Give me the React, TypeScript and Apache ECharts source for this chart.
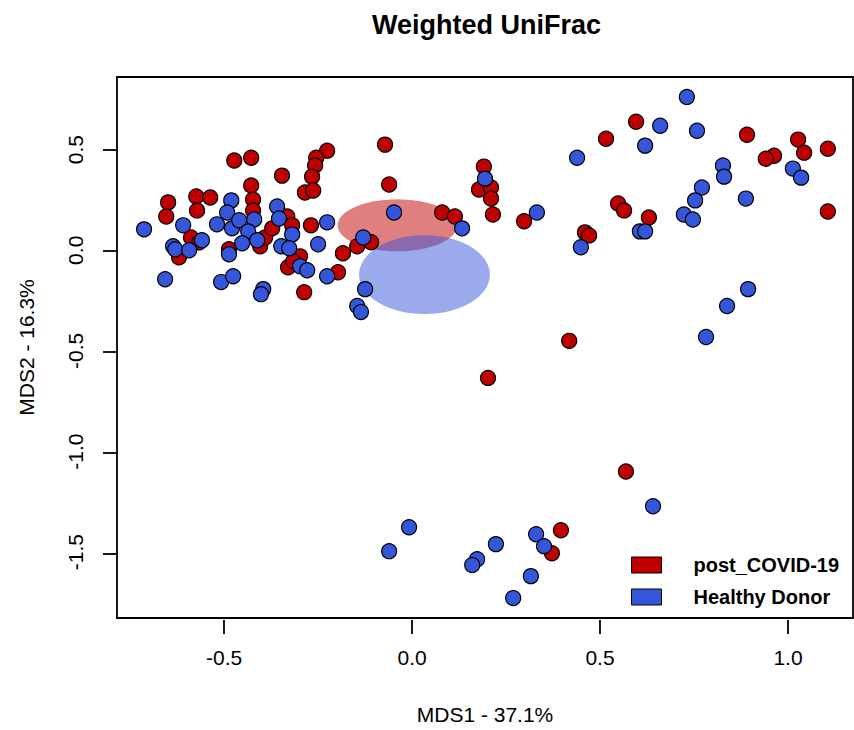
import React, { useEffect, useRef } from "react";
import * as echarts from "echarts";

// Axis tick positions
const xTicks = [-0.5, 0, 0.5, 1.0];
const yTicks = [-1.5, -1.0, -0.5, 0, 0.5];

// Plot extents (the box)
const xRange = [-0.785, 1.173];
const yRange = [-1.827, 0.861];

// Extents of the slightly larger frame that holds the outward tick marks
const xFrame = [-0.8222, 1.173];
const yFrame = [-1.8963, 0.861];

const groupNames = ["post_COVID-19", "Healthy Donor"];
const groupColors = ["#C00000", "#3556DA"];
const ellipseColors = ["rgba(192,0,0,0.5)", "rgba(53,86,218,0.5)"];

// MDS coordinates per sample: [MDS1, MDS2]
const postCovid: [number, number][] = [
  [-0.473, 0.446], [-0.428, 0.46], [-0.346, 0.371], [-0.649, 0.238], [-0.654, 0.168],
  [-0.574, 0.267], [-0.537, 0.262], [-0.572, 0.198], [-0.428, 0.322], [-0.423, 0.252],
  [-0.423, 0.198], [-0.588, 0.064], [-0.566, 0.04], [-0.62, -0.035], [-0.487, 0.005],
  [-0.404, 0.02], [-0.391, 0.064], [-0.372, 0.109], [-0.332, 0.168], [-0.319, 0.124],
  [-0.269, 0.124], [-0.287, -0.208], [-0.33, -0.084], [-0.298, -0.03], [-0.316, -0.054],
  [-0.226, 0.495], [-0.255, 0.46], [-0.258, 0.421], [-0.266, 0.366], [-0.285, 0.287],
  [-0.263, 0.297], [-0.184, -0.015], [-0.197, -0.109], [-0.146, 0.02], [-0.109, 0.04],
  [-0.072, 0.525], [-0.061, 0.327], [0.08, 0.188], [0.114, 0.168], [0.191, 0.416],
  [0.178, 0.302], [0.21, 0.312], [0.21, 0.257], [0.215, 0.178], [0.298, 0.144],
  [0.516, 0.554], [0.596, 0.639], [0.891, 0.574], [1.027, 0.55], [1.043, 0.485],
  [1.106, 0.505], [0.963, 0.47], [0.941, 0.455], [0.548, 0.233], [0.564, 0.198],
  [0.63, 0.163], [0.46, 0.089], [0.471, 0.074], [1.106, 0.193], [0.418, -0.45],
  [0.202, -0.634], [0.569, -1.099], [0.396, -1.391], [0.372, -1.505],
];

const healthyDonor: [number, number][] = [
  [-0.713, 0.104], [-0.609, 0.124], [-0.636, 0.02], [-0.63, 0.005], [-0.593, 0.0],
  [-0.559, 0.05], [-0.657, -0.144], [-0.508, -0.158], [-0.476, -0.129], [-0.396, -0.193],
  [-0.402, -0.218], [-0.481, 0.248], [-0.492, 0.188], [-0.519, 0.129], [-0.479, 0.109],
  [-0.46, 0.149], [-0.42, 0.153], [-0.436, 0.094], [-0.452, 0.035], [-0.412, 0.05],
  [-0.487, -0.02], [-0.359, 0.218], [-0.354, 0.158], [-0.319, 0.079], [-0.348, 0.02],
  [-0.327, 0.01], [-0.298, -0.079], [-0.279, -0.099], [-0.226, 0.139], [-0.25, 0.03],
  [-0.226, -0.129], [-0.13, 0.064], [-0.048, 0.188], [0.133, 0.109], [0.194, 0.356],
  [-0.125, -0.193], [-0.146, -0.277], [-0.136, -0.307], [0.731, 0.762], [0.66, 0.619],
  [0.62, 0.52], [0.758, 0.594], [0.439, 0.46], [0.827, 0.421], [0.83, 0.366],
  [0.771, 0.312], [0.753, 0.248], [0.723, 0.178], [0.747, 0.153], [0.888, 0.257],
  [1.013, 0.406], [1.035, 0.361], [0.332, 0.188], [0.449, 0.015], [0.606, 0.094],
  [0.62, 0.094], [0.894, -0.193], [0.838, -0.277], [0.782, -0.431], [0.641, -1.272],
  [-0.008, -1.376], [-0.061, -1.495], [0.223, -1.46], [0.173, -1.535], [0.16, -1.564],
  [0.33, -1.411], [0.351, -1.47], [0.316, -1.619], [0.269, -1.728],
];

// Group ellipses: [centerX, centerY, radiusX, radiusY]
const postCovidEllipse = [-0.039, 0.124, 0.159, 0.129];
const healthyEllipse = [0.033, -0.121, 0.174, 0.196];

const FONT = "'Liberation Sans', Arial, Helvetica, sans-serif";
const TICK_LEN = 14;
const LINE_W = 1.8;

function ellipseSeries(name: string, ellipse: number[], color: string) {
  return {
    type: "custom",
    name,
    z: 1,
    silent: true,
    data: [ellipse],
    encode: { x: 0, y: 1 },
    renderItem: (_params: any, api: any) => {
      const cx = api.value(0);
      const cy = api.value(1);
      const rx = api.value(2);
      const ry = api.value(3);
      const points: number[][] = [];
      const n = 120;
      for (let i = 0; i < n; i++) {
        const t = (i / n) * Math.PI * 2;
        points.push(api.coord([cx + rx * Math.cos(t), cy + ry * Math.sin(t)]));
      }
      return {
        type: "polygon",
        shape: { points },
        style: { fill: color, stroke: "none" },
      };
    },
  };
}

// Outward tick marks, drawn in the outer frame (grid 1) that shares the box's scale
function tickSeries(name: string, values: number[], horizontal: boolean) {
  return {
    type: "custom",
    name,
    xAxisIndex: 1,
    yAxisIndex: 1,
    z: 5,
    silent: true,
    clip: false,
    data: values.map((v) => (horizontal ? [v, yRange[0]] : [xRange[0], v])),
    encode: { x: 0, y: 1 },
    renderItem: (_params: any, api: any) => {
      const p = api.coord([api.value(0), api.value(1)]);
      const x = Math.round(p[0]);
      const y = Math.round(p[1]);
      return {
        type: "line",
        shape: horizontal
          ? { x1: x, y1: y, x2: x, y2: y + TICK_LEN }
          : { x1: x, y1: y, x2: x - TICK_LEN, y2: y },
        style: { stroke: "#000", lineWidth: LINE_W },
      };
    },
  };
}

function pointSeries(name: string, data: [number, number][], color: string) {
  return {
    type: "scatter",
    name,
    z: 3,
    data,
    symbol: "circle",
    symbolSize: 15,
    itemStyle: { color, borderColor: "#000", borderWidth: 1.2, opacity: 1 },
  };
}

export default function App() {
  const ref = useRef<HTMLDivElement>(null);

  useEffect(() => {
    if (!ref.current) return;
    const chart = echarts.init(ref.current, undefined, { renderer: "svg" });
    const axisText = { fontFamily: FONT, fontSize: 21, color: "#000" };
    const option: any = {
      animation: false,
      backgroundColor: "#fff",
      title: {
        text: "Weighted UniFrac",
        left: 367,
        top: 6,
        textStyle: { fontFamily: FONT, fontSize: 27, fontWeight: "bold", color: "#000" },
      },
      grid: [
        {
          left: 117,
          top: 77,
          width: 736,
          height: 543,
          show: true,
          borderColor: "#000",
          borderWidth: LINE_W,
          backgroundColor: "transparent",
        },
        {
          left: 103,
          top: 77,
          width: 750,
          height: 557,
          show: false,
        },
      ],
      xAxis: [
        {
          type: "value",
          gridIndex: 0,
          position: "bottom",
          min: xRange[0],
          max: xRange[1],
          name: "MDS1 - 37.1%",
          nameLocation: "middle",
          nameGap: 86,
          nameTextStyle: axisText,
          axisLine: { show: false, onZero: false },
          splitLine: { show: false },
          axisTick: { show: false },
          axisLabel: {
            customValues: xTicks,
            formatter: (v: number) => v.toFixed(1),
            margin: 29,
            ...axisText,
          },
        },
        {
          type: "value",
          gridIndex: 1,
          min: xFrame[0],
          max: xFrame[1],
          show: false,
          splitLine: { show: false },
        },
      ],
      yAxis: [
        {
          type: "value",
          gridIndex: 0,
          position: "left",
          min: yRange[0],
          max: yRange[1],
          name: "MDS2 - 16.3%",
          nameLocation: "middle",
          nameRotate: 90,
          nameGap: 80,
          nameTextStyle: axisText,
          axisLine: { show: false, onZero: false },
          splitLine: { show: false },
          axisTick: { show: false },
          axisLabel: {
            customValues: yTicks,
            formatter: (v: number) => v.toFixed(1),
            rotate: 90,
            margin: 31,
            ...axisText,
          },
        },
        {
          type: "value",
          gridIndex: 1,
          min: yFrame[0],
          max: yFrame[1],
          show: false,
          splitLine: { show: false },
        },
      ],
      legend: {
        orient: "vertical",
        left: 626,
        top: 550,
        icon: "rect",
        itemWidth: 30,
        itemHeight: 16,
        itemGap: 12,
        selectedMode: false,
        data: groupNames.map((name, i) => ({
          name,
          itemStyle: { color: groupColors[i], borderColor: "#000", borderWidth: 1 },
        })),
        textStyle: {
          fontFamily: FONT,
          fontSize: 20,
          fontWeight: "bold",
          color: "#000",
          lineHeight: 16,
          padding: [0, 0, 0, 27],
        },
      },
      series: [
        ellipseSeries("post_COVID-19 ellipse", postCovidEllipse, ellipseColors[0]),
        ellipseSeries("Healthy Donor ellipse", healthyEllipse, ellipseColors[1]),
        pointSeries(groupNames[0], postCovid, groupColors[0]),
        pointSeries(groupNames[1], healthyDonor, groupColors[1]),
        tickSeries("MDS1 ticks", xTicks, true),
        tickSeries("MDS2 ticks", yTicks, false),
      ],
    };
    chart.setOption(option);
    return () => chart.dispose();
  }, []);

  return (
    <div
      ref={ref}
      style={{ position: "fixed", left: 0, top: 0, width: 854, height: 730, background: "#fff" }}
    />
  );
}
